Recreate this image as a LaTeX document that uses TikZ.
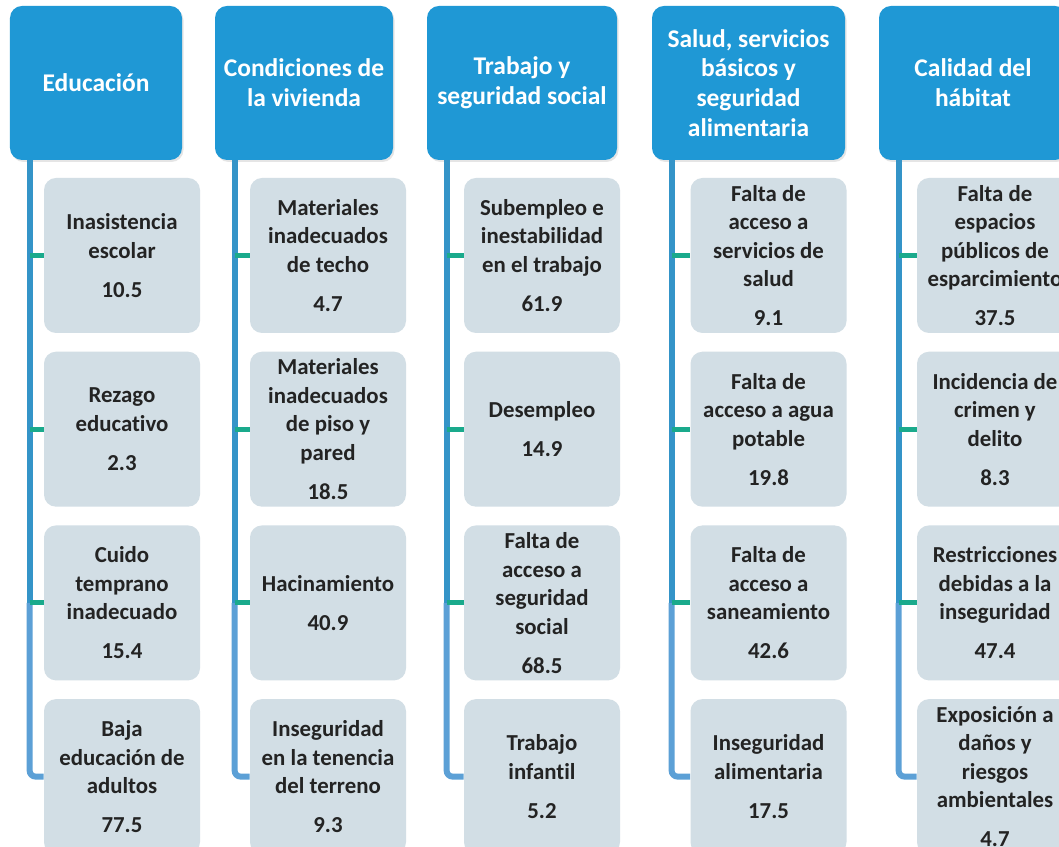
\documentclass[tikz,border=0pt]{standalone}
\usepackage{fontspec}
\setmainfont[Ligatures=NoCommon]{Carlito}
\usetikzlibrary{positioning,calc,shadows}
\definecolor{azul10}{RGB}{31, 152, 213}
\definecolor{gris10}{RGB}{210, 222, 229}
\definecolor{verde10}{RGB}{26, 170, 140}
\definecolor{tronco10}{RGB}{52, 148, 200}
\definecolor{tronco20}{RGB}{92, 160, 214}
\definecolor{texto10}{RGB}{35, 35, 35}
\tikzset{
  cabeza/.style={rectangle, rounded corners=0.24cm, fill=azul10, text=white,
    minimum height=3.08cm, align=center, font=\fontsize{14.5}{17}\selectfont\bfseries,
    drop shadow={shadow xshift=0.03cm, shadow yshift=-0.04cm, opacity=0.2}},
  caja/.style={rectangle, rounded corners=0.24cm, fill=gris10, text=texto10,
    minimum width=3.12cm, minimum height=3.1cm, align=center,
    font=\fontsize{13}{16.2}\selectfont\bfseries},
  rama/.style={draw=verde10, line width=2.8pt},
  troncoA/.style={draw=tronco10, line width=3.4pt},
  troncoB/.style={draw=tronco20, line width=3.4pt, rounded corners=0.12cm},
}

\begin{document}
\begin{tikzpicture}[node distance=0.36cm]
  \clip (0, 0) rectangle (21.18, 16.94);
  \fill[white] (0, 0) rectangle (21.18, 16.94);

  % cabezas
  \node[cabeza, minimum width=3.44cm] (educ)  at ( 1.92, 15.28) {Educación};
  \node[cabeza, minimum width=3.56cm] (viv)   at ( 6.08, 15.28) {Condiciones de\\la vivienda};
  \node[cabeza, minimum width=3.80cm] (trab)  at (10.44, 15.28) {Trabajo y\\seguridad social};
  \node[cabeza, minimum width=3.86cm] (salud) at (14.97, 15.28) {Salud, servicios\\básicos y\\seguridad\\alimentaria};
  \node[cabeza, minimum width=3.76cm] (habit) at (19.46, 15.28) {Calidad del\\hábitat};

  % Educación
  \node[caja] (educ1) at (2.44, 11.83) {Inasistencia\\escolar\\[6pt]10.5};
  \node[caja, below=of educ1] (educ2) {Rezago\\educativo\\[6pt]2.3};
  \node[caja, below=of educ2] (educ3) {Cuido\\temprano\\inadecuado\\[6pt]15.4};
  \node[caja, below=of educ3] (educ4) {Baja\\educación de\\adultos\\[6pt]77.5};

  % vivienda
  \node[caja] (viv1) at (6.56, 11.83) {Materiales\\inadecuados\\de techo\\[6pt]4.7};
  \node[caja, below=of viv1] (viv2) {Materiales\\inadecuados\\de piso y\\pared\\[6pt]18.5};
  \node[caja, below=of viv2] (viv3) {Hacinamiento\\[6pt]40.9};
  \node[caja, below=of viv3] (viv4) {Inseguridad\\en la tenencia\\del terreno\\[6pt]9.3};

  % trabajo
  \node[caja] (trab1) at (10.84, 11.83) {Subempleo e\\inestabilidad\\en el trabajo\\[6pt]61.9};
  \node[caja, below=of trab1] (trab2) {Desempleo\\[6pt]14.9};
  \node[caja, below=of trab2] (trab3) {Falta de\\acceso a\\seguridad\\social\\[6pt]68.5};
  \node[caja, below=of trab3] (trab4) {Trabajo\\infantil\\[6pt]5.2};

  % salud
  \node[caja] (salud1) at (15.37, 11.83) {Falta de\\acceso a\\servicios de\\salud\\[6pt]9.1};
  \node[caja, below=of salud1] (salud2) {Falta de\\acceso a agua\\potable\\[6pt]19.8};
  \node[caja, below=of salud2] (salud3) {Falta de\\acceso a\\saneamiento\\[6pt]42.6};
  \node[caja, below=of salud3] (salud4) {Inseguridad\\alimentaria\\[6pt]17.5};

  % hábitat
  \node[caja] (habit1) at (19.90, 11.83) {Falta de\\espacios\\públicos de\\esparcimiento\\[6pt]37.5};
  \node[caja, below=of habit1] (habit2) {Incidencia de\\crimen y\\delito\\[6pt]8.3};
  \node[caja, below=of habit2] (habit3) {Restricciones\\debidas a la\\inseguridad\\[6pt]47.4};
  \node[caja, below=of habit3] (habit4) {Exposición a\\daños y\\riesgos\\ambientales\\[6pt]4.7};

  % troncos y ramas
  \foreach \c in {educ, viv, trab, salud, habit} {
    \coordinate (\c T) at ($(\c.south west)+(0.4, 0)$);
    \draw[troncoB] (\c T |- \c3.west) |- (\c4.west);
    \draw[troncoA] (\c T) -- (\c T |- \c3.west);
    \foreach \i in {1, 2, 3}
      \draw[rama] (\c T |- \c\i.west) -- (\c\i.west);
  }
\end{tikzpicture}
\end{document}
